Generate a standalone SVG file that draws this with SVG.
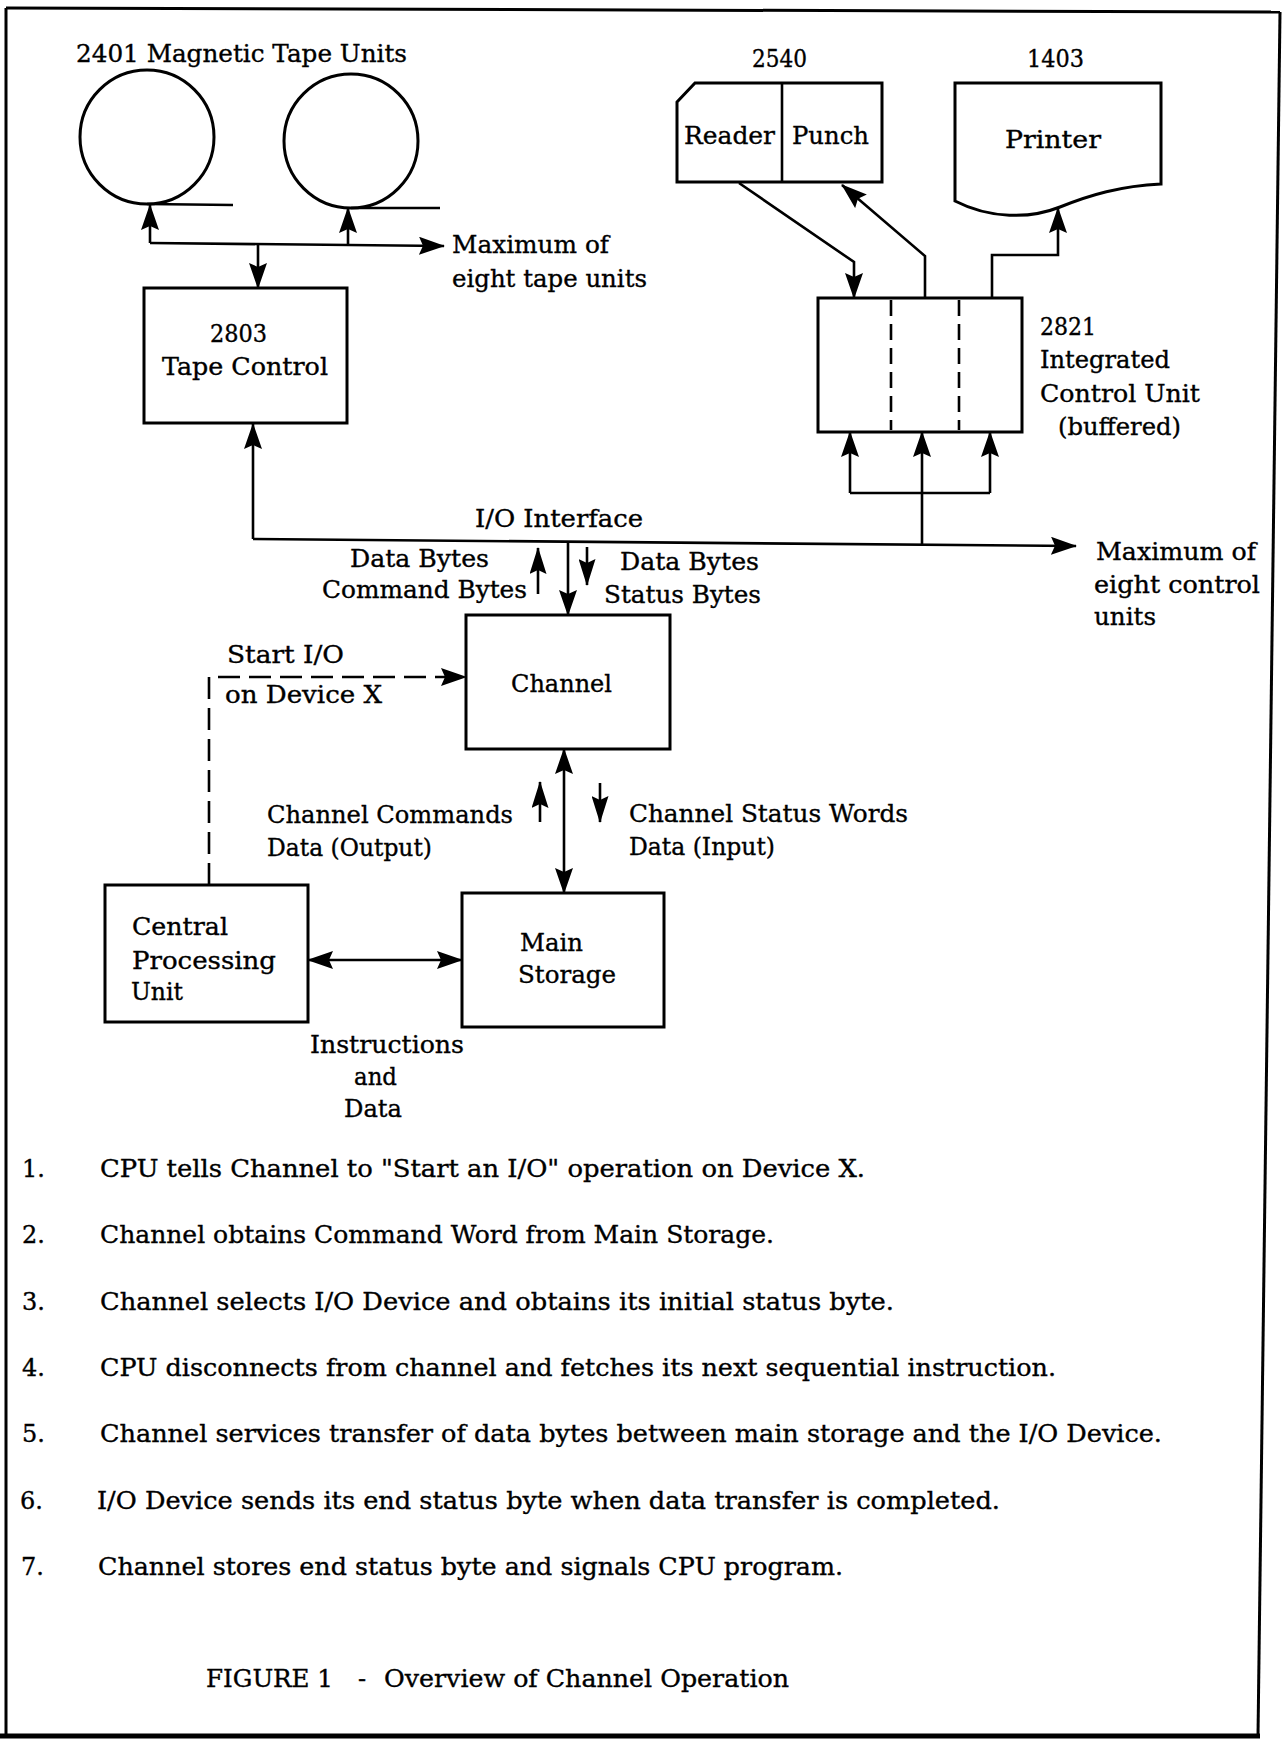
<svg xmlns="http://www.w3.org/2000/svg" width="1287" height="1742" viewBox="0 0 1287 1742">
<defs>
<style>
text { font-family: "DejaVu Serif", "Liberation Serif", serif; font-size: 24px; fill: #000; stroke: #000; stroke-width: 0.35; }
.box { fill: #fff; stroke: #000; stroke-width: 3; }
.ln { fill: none; stroke: #000; stroke-width: 2.6; }
.dash { stroke-dasharray: 22 9; }
.idash { fill: none; stroke: #000; stroke-width: 2.6; stroke-dasharray: 16 8; }
.frame { fill: none; stroke: #000; stroke-width: 3; }
</style>
<marker id="ah" viewBox="0 0 26 18" refX="25" refY="9" markerWidth="26" markerHeight="18" orient="auto-start-reverse" markerUnits="userSpaceOnUse">
<path d="M0,0 L26,9 L0,18 L4,9 z" fill="#000"/>
</marker>
<marker id="as" viewBox="0 0 27 17" refX="26" refY="8.5" markerWidth="27" markerHeight="17" orient="auto-start-reverse" markerUnits="userSpaceOnUse">
<path d="M0,0 L27,8.5 L0,17 L4,8.5 z" fill="#000"/>
</marker>
</defs>
<rect width="1287" height="1742" fill="#fff"/>

<g id="frame">
<line class="frame" x1="6" y1="8" x2="1280" y2="12"/>
<line class="frame" x1="6" y1="8" x2="6" y2="1736"/>
<line class="frame" x1="1280" y1="12" x2="1258" y2="1736"/>
<line x1="0" y1="1736" x2="1260" y2="1736" stroke="#000" stroke-width="5"/>
</g>

<g id="connectors">
<line class="ln" x1="150" y1="243" x2="150" y2="205" marker-end="url(#ah)"/>
<line class="ln" x1="348" y1="244" x2="348" y2="208" marker-end="url(#ah)"/>
<line class="ln" x1="150" y1="243" x2="444" y2="246" marker-end="url(#ah)"/>
<line class="ln" x1="258" y1="244" x2="258" y2="288" marker-end="url(#ah)"/>
<line class="ln" x1="253" y1="539" x2="253" y2="424" marker-end="url(#ah)"/>
<line class="ln" x1="253" y1="539" x2="1076" y2="546" marker-end="url(#ah)"/>
<line class="ln" x1="568" y1="541" x2="568" y2="615" marker-end="url(#ah)"/>
<line class="ln" x1="538" y1="594" x2="538" y2="548" marker-end="url(#as)"/>
<line class="ln" x1="587" y1="547" x2="587" y2="585" marker-end="url(#as)"/>
<line class="ln" x1="922" y1="545" x2="922" y2="493"/>
<line class="ln" x1="850" y1="493" x2="990" y2="493"/>
<line class="ln" x1="850" y1="493" x2="850" y2="432" marker-end="url(#ah)"/>
<line class="ln" x1="922" y1="493" x2="922" y2="432" marker-end="url(#ah)"/>
<line class="ln" x1="990" y1="493" x2="990" y2="432" marker-end="url(#ah)"/>
<path class="ln" d="M739,183 L854,262 L854,298" marker-end="url(#ah)"/>
<path class="ln" d="M925,298 L925,256 L842,185" marker-end="url(#ah)"/>
<path class="ln" d="M992,298 L992,255 L1058,255 L1058,208" marker-end="url(#ah)"/>
<path class="ln dash" d="M209,885 L209,677 L466,677" marker-end="url(#ah)"/>
<line class="ln" x1="564" y1="749" x2="564" y2="893" marker-start="url(#ah)" marker-end="url(#ah)"/>
<line class="ln" x1="540" y1="822" x2="540" y2="782" marker-end="url(#as)"/>
<line class="ln" x1="600" y1="783" x2="600" y2="822" marker-end="url(#as)"/>
<line class="ln" x1="308" y1="960" x2="462" y2="960" marker-start="url(#ah)" marker-end="url(#ah)"/>
</g>

<g id="tape-units">
<text x="76" y="62" textLength="331" lengthAdjust="spacingAndGlyphs">2401 Magnetic Tape Units</text>
<circle cx="147" cy="137" r="67" fill="none" stroke="#000" stroke-width="3"/>
<line class="ln" x1="147" y1="204" x2="233" y2="205"/>
<circle cx="351" cy="141" r="67" fill="none" stroke="#000" stroke-width="3"/>
<line class="ln" x1="351" y1="208" x2="440" y2="208"/>
<text x="452" y="253" textLength="157" lengthAdjust="spacingAndGlyphs">Maximum of</text>
<text x="452" y="287" textLength="195" lengthAdjust="spacingAndGlyphs">eight tape units</text>
</g>

<g id="tape-control">
<rect class="box" x="144" y="288" width="203" height="135"/>
<text x="210" y="342" textLength="57" lengthAdjust="spacingAndGlyphs">2803</text>
<text x="162" y="375" textLength="166" lengthAdjust="spacingAndGlyphs">Tape Control</text>
</g>

<g id="reader-punch">
<text x="752" y="67" textLength="55" lengthAdjust="spacingAndGlyphs">2540</text>
<path class="box" d="M677,102 L695,83 L882,83 L882,182 L677,182 Z"/>
<line class="ln" x1="782" y1="83" x2="782" y2="182"/>
<text x="684" y="144" textLength="91" lengthAdjust="spacingAndGlyphs">Reader</text>
<text x="792" y="144" textLength="77" lengthAdjust="spacingAndGlyphs">Punch</text>
</g>

<g id="printer">
<text x="1027" y="67" textLength="57" lengthAdjust="spacingAndGlyphs">1403</text>
<path class="box" d="M955,83 L1161,83 L1161,184 C1120,186 1090,195 1060,207 C1030,219 990,219 955,201 Z"/>
<text x="1005" y="148" textLength="96" lengthAdjust="spacingAndGlyphs">Printer</text>
</g>

<g id="control-unit-2821">
<rect class="box" x="818" y="298" width="204" height="134"/>
<line class="idash" x1="891" y1="300" x2="891" y2="430"/>
<line class="idash" x1="959" y1="300" x2="959" y2="430"/>
<text x="1040" y="335" textLength="56" lengthAdjust="spacingAndGlyphs">2821</text>
<text x="1040" y="368" textLength="130" lengthAdjust="spacingAndGlyphs">Integrated</text>
<text x="1040" y="402" textLength="160" lengthAdjust="spacingAndGlyphs">Control Unit</text>
<text x="1058" y="435" textLength="123" lengthAdjust="spacingAndGlyphs">(buffered)</text>
</g>

<g id="io-labels">
<text x="475" y="527" textLength="168" lengthAdjust="spacingAndGlyphs">I/O Interface</text>
<text x="350" y="567" textLength="139" lengthAdjust="spacingAndGlyphs">Data Bytes</text>
<text x="322" y="598" textLength="205" lengthAdjust="spacingAndGlyphs">Command Bytes</text>
<text x="620" y="570" textLength="139" lengthAdjust="spacingAndGlyphs">Data Bytes</text>
<text x="604" y="603" textLength="157" lengthAdjust="spacingAndGlyphs">Status Bytes</text>
<text x="1096" y="560" textLength="160" lengthAdjust="spacingAndGlyphs">Maximum of</text>
<text x="1094" y="593" textLength="166" lengthAdjust="spacingAndGlyphs">eight control</text>
<text x="1094" y="625" textLength="62" lengthAdjust="spacingAndGlyphs">units</text>
<text x="227" y="663" textLength="117" lengthAdjust="spacingAndGlyphs">Start I/O</text>
<text x="225" y="703" textLength="157" lengthAdjust="spacingAndGlyphs">on Device X</text>
<text x="267" y="823" textLength="246" lengthAdjust="spacingAndGlyphs">Channel Commands</text>
<text x="267" y="856" textLength="165" lengthAdjust="spacingAndGlyphs">Data (Output)</text>
<text x="629" y="822" textLength="279" lengthAdjust="spacingAndGlyphs">Channel Status Words</text>
<text x="629" y="855" textLength="146" lengthAdjust="spacingAndGlyphs">Data (Input)</text>
<text x="310" y="1053" textLength="154" lengthAdjust="spacingAndGlyphs">Instructions</text>
<text x="354" y="1085" textLength="43" lengthAdjust="spacingAndGlyphs">and</text>
<text x="344" y="1117" textLength="58" lengthAdjust="spacingAndGlyphs">Data</text>
</g>

<g id="channel">
<rect class="box" x="466" y="615" width="204" height="134"/>
<text x="511" y="692" textLength="101" lengthAdjust="spacingAndGlyphs">Channel</text>
</g>

<g id="cpu">
<rect class="box" x="105" y="885" width="203" height="137"/>
<text x="132" y="935" textLength="96" lengthAdjust="spacingAndGlyphs">Central</text>
<text x="132" y="969" textLength="144" lengthAdjust="spacingAndGlyphs">Processing</text>
<text x="131" y="1000" textLength="52" lengthAdjust="spacingAndGlyphs">Unit</text>
</g>

<g id="main-storage">
<rect class="box" x="462" y="893" width="202" height="134"/>
<text x="520" y="951" textLength="63" lengthAdjust="spacingAndGlyphs">Main</text>
<text x="518" y="983" textLength="98" lengthAdjust="spacingAndGlyphs">Storage</text>
</g>

<g id="steps">
<text x="22" y="1177">1.</text>
<text x="100" y="1177" textLength="765" lengthAdjust="spacingAndGlyphs">CPU tells Channel to "Start an I/O" operation on Device X.</text>
<text x="22" y="1243">2.</text>
<text x="100" y="1243" textLength="674" lengthAdjust="spacingAndGlyphs">Channel obtains Command Word from Main Storage.</text>
<text x="22" y="1310">3.</text>
<text x="100" y="1310" textLength="794" lengthAdjust="spacingAndGlyphs">Channel selects I/O Device and obtains its initial status byte.</text>
<text x="22" y="1376">4.</text>
<text x="100" y="1376" textLength="956" lengthAdjust="spacingAndGlyphs">CPU disconnects from channel and fetches its next sequential instruction.</text>
<text x="22" y="1442">5.</text>
<text x="100" y="1442" textLength="1062" lengthAdjust="spacingAndGlyphs">Channel services transfer of data bytes between main storage and the I/O Device.</text>
<text x="20" y="1509">6.</text>
<text x="97" y="1509" textLength="903" lengthAdjust="spacingAndGlyphs">I/O Device sends its end status byte when data transfer is completed.</text>
<text x="21" y="1575">7.</text>
<text x="98" y="1575" textLength="745" lengthAdjust="spacingAndGlyphs">Channel stores end status byte and signals CPU program.</text>
</g>

<g id="caption">
<text x="206" y="1687" textLength="127" lengthAdjust="spacingAndGlyphs">FIGURE 1</text>
<text x="358" y="1687">-</text>
<text x="384" y="1687" textLength="405" lengthAdjust="spacingAndGlyphs">Overview of Channel Operation</text>
</g>
</svg>
